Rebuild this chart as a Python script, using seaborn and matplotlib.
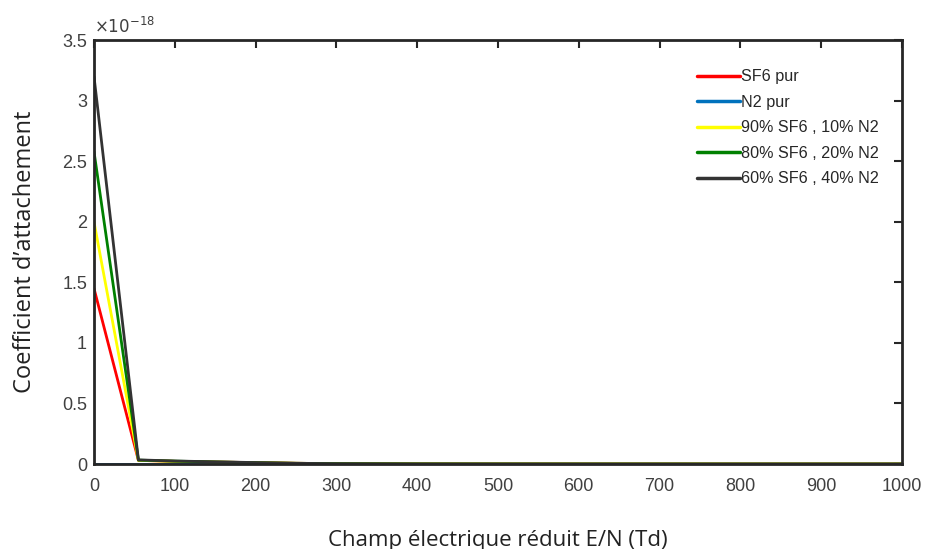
import numpy as np
import pandas as pd
import matplotlib.pyplot as plt
import seaborn as sns
from matplotlib.ticker import FuncFormatter

# E/N (Td)
champ = [0, 55, 100, 150, 200, 250, 300, 400, 500, 600, 700, 800, 900, 1000]

# coefficients d'attachement
sf6_pur = [1.45e-18, 0.030e-18, 0.022e-18, 0.016e-18, 0.012e-18, 0.006e-18, 0.003e-18,
           0.001e-18, 0.0005e-18, 0.0003e-18, 0.0002e-18, 0.0001e-18, 0.0001e-18, 0.0001e-18]
n2_pur = [0.0, 0.0, 0.0, 0.0, 0.0, 0.0, 0.0, 0.0, 0.0, 0.0, 0.0, 0.0, 0.0, 0.0]
sf6_90 = [2.00e-18, 0.030e-18, 0.022e-18, 0.016e-18, 0.011e-18, 0.006e-18, 0.003e-18,
          0.001e-18, 0.0005e-18, 0.0003e-18, 0.0002e-18, 0.0001e-18, 0.0001e-18, 0.0001e-18]
sf6_80 = [2.58e-18, 0.032e-18, 0.024e-18, 0.017e-18, 0.011e-18, 0.006e-18, 0.003e-18,
          0.001e-18, 0.0005e-18, 0.0003e-18, 0.0002e-18, 0.0001e-18, 0.0001e-18, 0.0001e-18]
sf6_60 = [3.20e-18, 0.034e-18, 0.025e-18, 0.018e-18, 0.012e-18, 0.006e-18, 0.003e-18,
          0.001e-18, 0.0005e-18, 0.0003e-18, 0.0002e-18, 0.0001e-18, 0.0001e-18, 0.0001e-18]

labels = ['SF6 pur', 'N2 pur', '90% SF6 , 10% N2', '80% SF6 , 20% N2', '60% SF6 , 40% N2']
colors = ['#ff0000', '#0072bd', '#ffff00', '#008000', '#333333']

rows = []
for lab, vals in zip(labels, [sf6_pur, n2_pur, sf6_90, sf6_80, sf6_60]):
    for e, v in zip(champ, vals):
        rows.append({'E/N': e, 'coef': v, 'gaz': lab})
df = pd.DataFrame(rows)

sns.set_style('white')
plt.rcParams['font.family'] = ['Liberation Sans', 'DejaVu Sans']

fig = plt.figure(figsize=(9.25, 5.49), dpi=100)
ax = fig.add_axes([0.1016, 0.1548, 0.8735, 0.7722])

sns.lineplot(data=df, x='E/N', y='coef', hue='gaz', hue_order=labels,
             palette=colors, linewidth=2, ax=ax)

ax.set_xlim(0, 1000)
ax.set_ylim(0, 3.5e-18)
ax.set_xticks(np.arange(0, 1001, 100))
ax.set_yticks(np.arange(0, 3.51e-18, 0.5e-18))
ax.yaxis.set_major_formatter(FuncFormatter(lambda v, p: '%g' % round(v / 1e-18, 2)))

for s in ax.spines.values():
    s.set_color('#262626')
    s.set_linewidth(2)
ax.tick_params(direction='in', length=6, width=1.5, colors='#262626',
               labelcolor='#404040', labelsize=13, top=True, right=True)
ax.tick_params(axis='x', pad=10)
ax.tick_params(axis='y', pad=5)
ax.text(0.0, 1.01, r'$\times10^{-18}$', transform=ax.transAxes,
        fontsize=12, color='#404040', ha='left', va='bottom')

ax.set_xlabel("Champ électrique réduit E/N (Td)", fontsize=16,
              family=['Open Sans', 'DejaVu Sans'], color='#222222', labelpad=25)
ax.set_ylabel("Coefficient d’attachement", fontsize=17,
              family=['Open Sans', 'DejaVu Sans'], color='#222222', labelpad=18)

leg = ax.legend(loc='upper left', bbox_to_anchor=(0.746, 0.931), frameon=False,
                borderpad=0, borderaxespad=0, fontsize=11.6, handlelength=2.67,
                handletextpad=0.05, labelspacing=0.65)
for line in leg.get_lines():
    line.set_linewidth(2.5)

fig.savefig('out.png', dpi=100)
